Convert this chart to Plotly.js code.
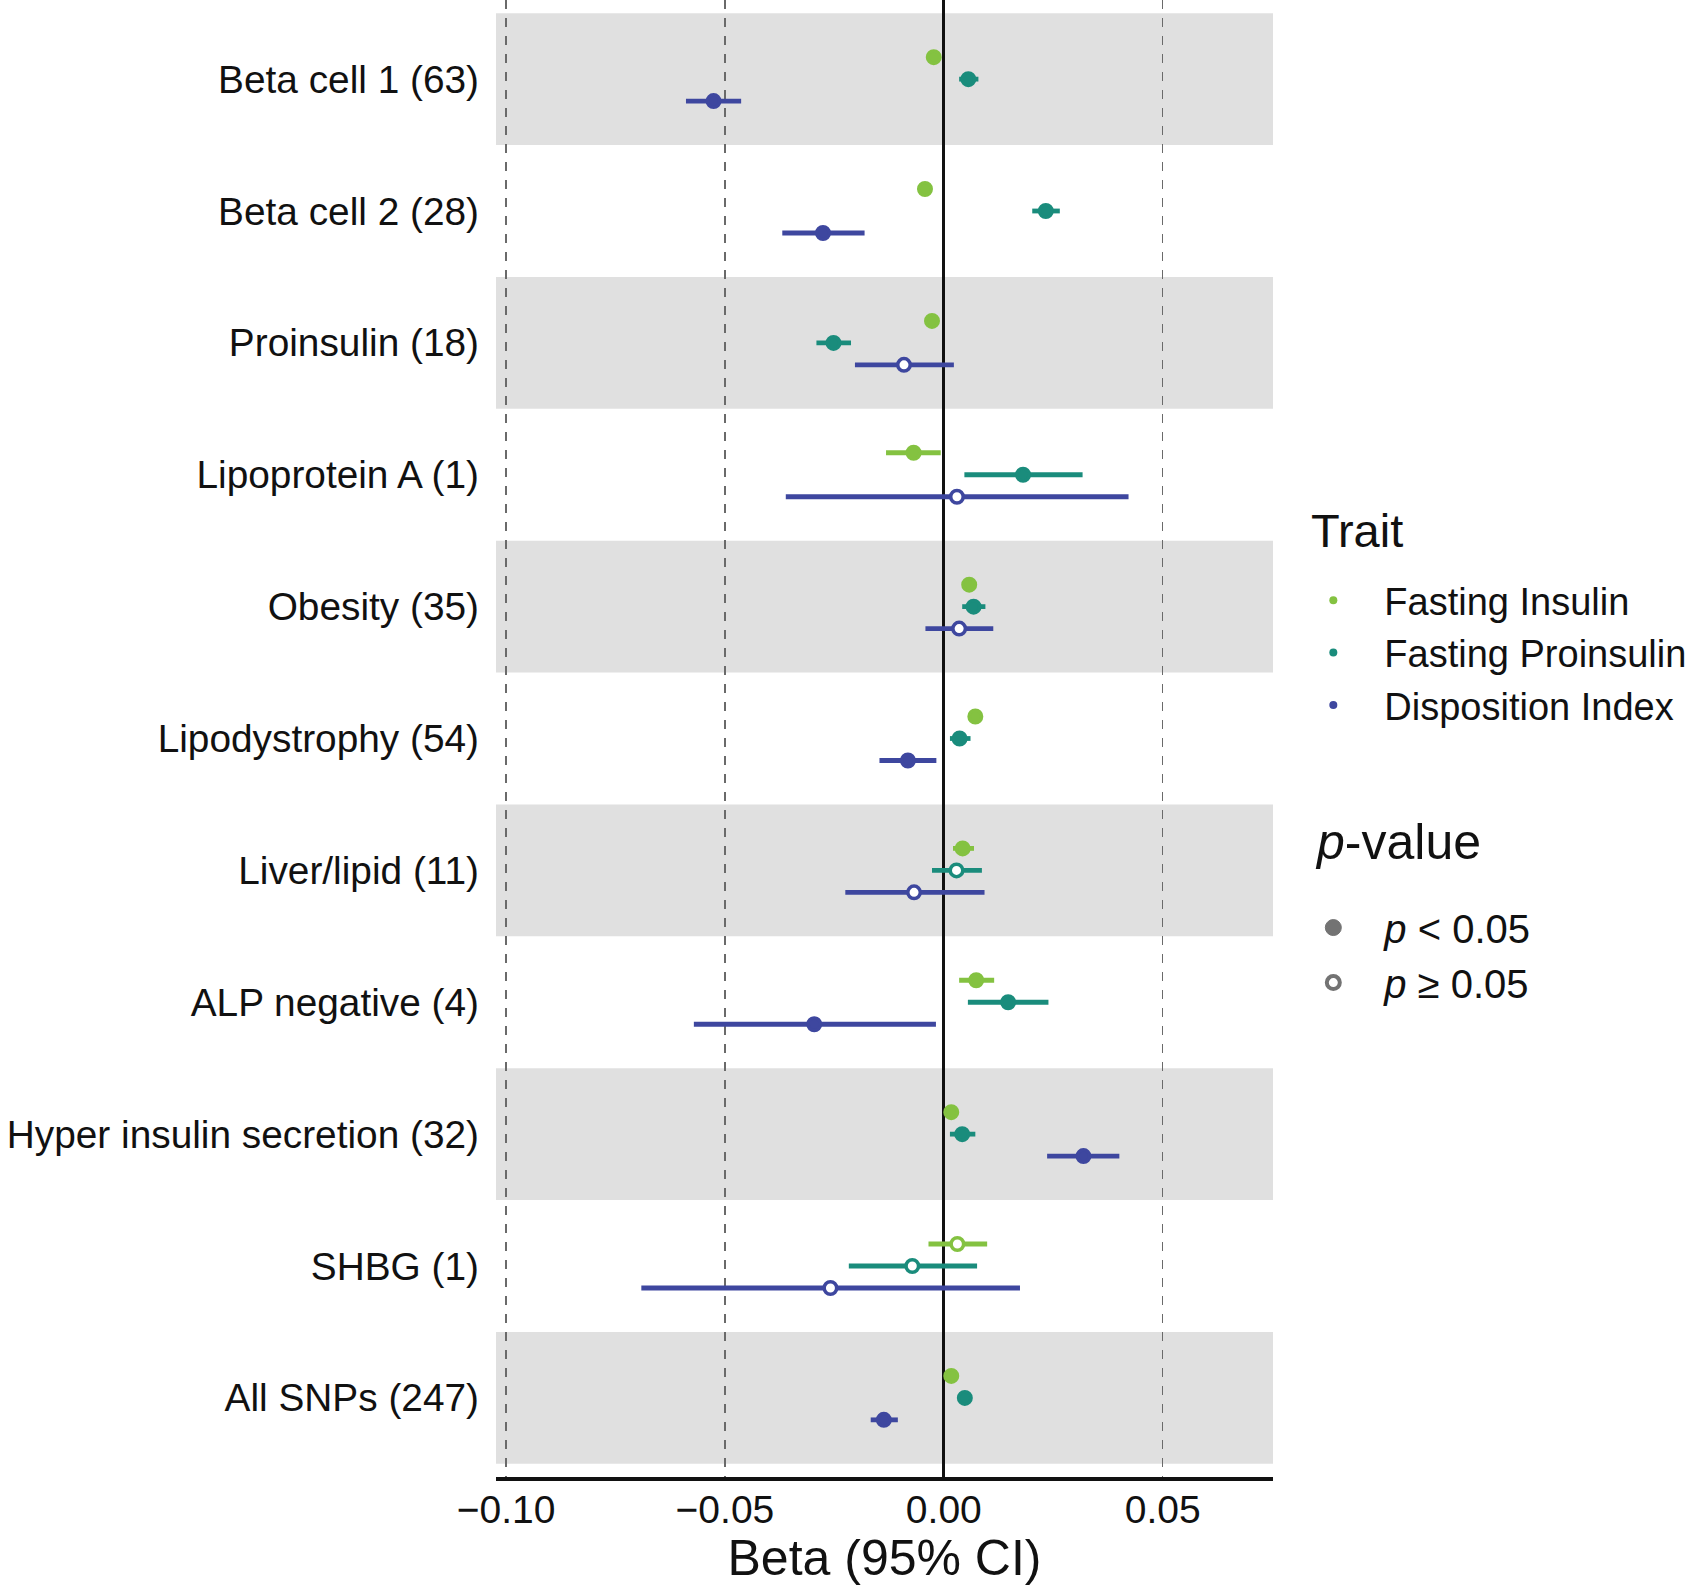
<!DOCTYPE html>
<html>
<head>
<meta charset="utf-8">
<script src="https://cdn.plot.ly/plotly-3.0.1.min.js"></script>
<style>
html, body { margin: 0; padding: 0; background: #ffffff; }
#chart { width: 1699px; height: 1586px; }
</style>
</head>
<body>
<div id="chart"></div>
<script>
// ---------- data ----------
const categories = [
  "Beta cell 1 (63)", "Beta cell 2 (28)", "Proinsulin (18)", "Lipoprotein A (1)",
  "Obesity (35)", "Lipodystrophy (54)", "Liver/lipid (11)", "ALP negative (4)",
  "Hyper insulin secretion (32)", "SHBG (1)", "All SNPs (247)"
];
const traitNames = ["Fasting Insulin", "Fasting Proinsulin", "Disposition Index"];

const fiBeta = [-0.0023, -0.0043, -0.0027, -0.0069, 0.0058, 0.0072, 0.0043, 0.0074, 0.0017, 0.0031, 0.0017];
const fiLow  = [-0.0031, -0.0051, -0.0035, -0.0132, 0.0051, 0.0065, 0.0021, 0.0035, 0.0010, -0.0035, 0.0011];
const fiHigh = [-0.0015, -0.0035, -0.0019, -0.0007, 0.0065, 0.0079, 0.0069, 0.0115, 0.0024, 0.0099, 0.0023];
const fiSig  = [1, 1, 1, 1, 1, 1, 1, 1, 1, 0, 1];

const fpBeta = [0.0056, 0.0233, -0.0252, 0.0181, 0.0068, 0.0036, 0.0029, 0.0147, 0.0042, -0.0072, 0.0048];
const fpLow  = [0.0035, 0.0202, -0.0291, 0.0047, 0.0042, 0.0014, -0.0027, 0.0055, 0.0014, -0.0217, 0.0041];
const fpHigh = [0.0079, 0.0265, -0.0212, 0.0317, 0.0095, 0.0061, 0.0087, 0.0239, 0.0072, 0.0076, 0.0055];
const fpSig  = [1, 1, 1, 1, 1, 1, 0, 1, 1, 0, 1];

const diBeta = [-0.0526, -0.0276, -0.0091, 0.0030, 0.0035, -0.0082, -0.0068, -0.0296, 0.0319, -0.0259, -0.0137];
const diLow  = [-0.0589, -0.0369, -0.0203, -0.0361, -0.0042, -0.0147, -0.0225, -0.0571, 0.0236, -0.0691, -0.0167];
const diHigh = [-0.0463, -0.0181, 0.0023, 0.0422, 0.0113, -0.0017, 0.0093, -0.0018, 0.0401, 0.0174, -0.0105];
const diSig  = [1, 1, 0, 0, 0, 1, 0, 1, 1, 0, 1];

const xTickVals = [-0.10, -0.05, 0.00, 0.05];
const pLegendNames = ["<i>p</i> &lt; 0.05", "<i>p</i> ≥ 0.05"];
const legendTitles = ["Trait", "<i>p</i>-value"];

// ---------- styling ----------
const colors = ["#84c241", "#1a8c7c", "#3e479f"];
const dodge = [1 / 6, 0, -1 / 6];
const FONT = "Liberation Sans, Arial, Helvetica, sans-serif";
const nCat = categories.length;
const rowPos = categories.map((c, i) => nCat - i); // top row highest

const series = [
  {beta: fiBeta, lo: fiLow, hi: fiHigh, sig: fiSig},
  {beta: fpBeta, lo: fpLow, hi: fpHigh, sig: fpSig},
  {beta: diBeta, lo: diLow, hi: diHigh, sig: diSig}
];

const traces = [];
series.forEach((s, k) => {
  traces.push({
    type: "scatter",
    mode: "markers",
    x: s.beta,
    y: rowPos.map(p => p + dodge[k]),
    text: categories,
    name: traitNames[k],
    showlegend: false,
    hoverinfo: "x+text+name",
    error_x: {
      type: "data",
      symmetric: false,
      array: s.hi.map((h, i) => h - s.beta[i]),
      arrayminus: s.lo.map((l, i) => s.beta[i] - l),
      color: colors[k],
      thickness: 4.8,
      width: 0
    },
    marker: {
      symbol: "circle",
      size: 12.5,
      color: s.sig.map(v => v ? colors[k] : "#ffffff"),
      line: {color: colors[k], width: 3.5}
    }
  });
});

// legend entries for traits
traitNames.forEach((n, k) => {
  traces.push({
    type: "scatter", mode: "markers", x: [null], y: [null],
    name: n, legend: "legend", showlegend: true, hoverinfo: "skip",
    marker: {symbol: "circle", size: 8, color: colors[k]}
  });
});
// legend entries for p-value
traces.push({
  type: "scatter", mode: "markers", x: [null], y: [null],
  name: pLegendNames[0], legend: "legend2", showlegend: true, hoverinfo: "skip",
  marker: {symbol: "circle", size: 17, color: "#737373", line: {color: "#737373", width: 1}}
});
traces.push({
  type: "scatter", mode: "markers", x: [null], y: [null],
  name: pLegendNames[1], legend: "legend2", showlegend: true, hoverinfo: "skip",
  marker: {symbol: "circle", size: 13, color: "#ffffff", line: {color: "#737373", width: 4}}
});

// alternating grey bands
const shapes = [];
rowPos.forEach((p, i) => {
  if (i % 2 === 0) {
    shapes.push({
      type: "rect", layer: "below", xref: "paper", yref: "y",
      x0: 0, x1: 1, y0: p - 0.5, y1: p + 0.5,
      fillcolor: "#e0e0e0", line: {width: 0}
    });
  }
});

const annotations = [
  {text: legendTitles[0], xref: "paper", yref: "paper", x: 1.0463, y: 0.6405,
   xanchor: "left", yanchor: "middle", showarrow: false,
   font: {family: FONT, size: 47, color: "#111111"}},
  {text: legendTitles[1], xref: "paper", yref: "paper", x: 1.0515, y: 0.4299,
   xanchor: "left", yanchor: "middle", showarrow: false,
   font: {family: FONT, size: 50, color: "#111111"}}
];

const layout = {
  width: 1699,
  height: 1586,
  margin: {l: 496, r: 426, t: 0, b: 109, pad: 0},
  paper_bgcolor: "#ffffff",
  plot_bgcolor: "#ffffff",
  font: {family: FONT, color: "#111111", size: 38},
  showlegend: true,
  shapes: shapes,
  annotations: annotations,
  xaxis: {
    range: [-0.1023, 0.0752],
    tickvals: xTickVals,
    tickformat: ".2f",
    ticks: "",
    showgrid: true,
    gridcolor: "#6a6a6a",
    griddash: "dash",
    gridwidth: 1.2,
    zeroline: true,
    zerolinecolor: "#111111",
    zerolinewidth: 3,
    showline: true,
    linecolor: "#111111",
    linewidth: 3.5,
    ticklabelstandoff: -4,
    tickfont: {family: FONT, size: 39, color: "#111111"},
    title: {text: "Beta (95% CI)", font: {family: FONT, size: 50, color: "#111111"}, standoff: 2},
    automargin: false,
    fixedrange: true
  },
  yaxis: {
    range: [0.4, nCat + 0.6],
    tickvals: rowPos,
    ticktext: categories,
    ticks: "",
    showgrid: false,
    zeroline: false,
    showline: false,
    ticklabelstandoff: 16,
    tickfont: {family: FONT, size: 38.8, color: "#111111"},
    automargin: false,
    fixedrange: true
  },
  legend: {
    x: 1.012, xanchor: "left", y: 0.6148, yanchor: "top",
    font: {family: FONT, size: 38, color: "#111111"},
    itemwidth: 92, itemsizing: "trace",
    bgcolor: "rgba(0,0,0,0)", borderwidth: 0
  },
  legend2: {
    x: 1.012, xanchor: "left", y: 0.394, yanchor: "top",
    font: {family: FONT, size: 40, color: "#111111"},
    itemwidth: 92, itemsizing: "trace",
    bgcolor: "rgba(0,0,0,0)", borderwidth: 0
  }
};

Plotly.newPlot("chart", traces, layout, {displayModeBar: false, staticPlot: true});
</script>
</body>
</html>
